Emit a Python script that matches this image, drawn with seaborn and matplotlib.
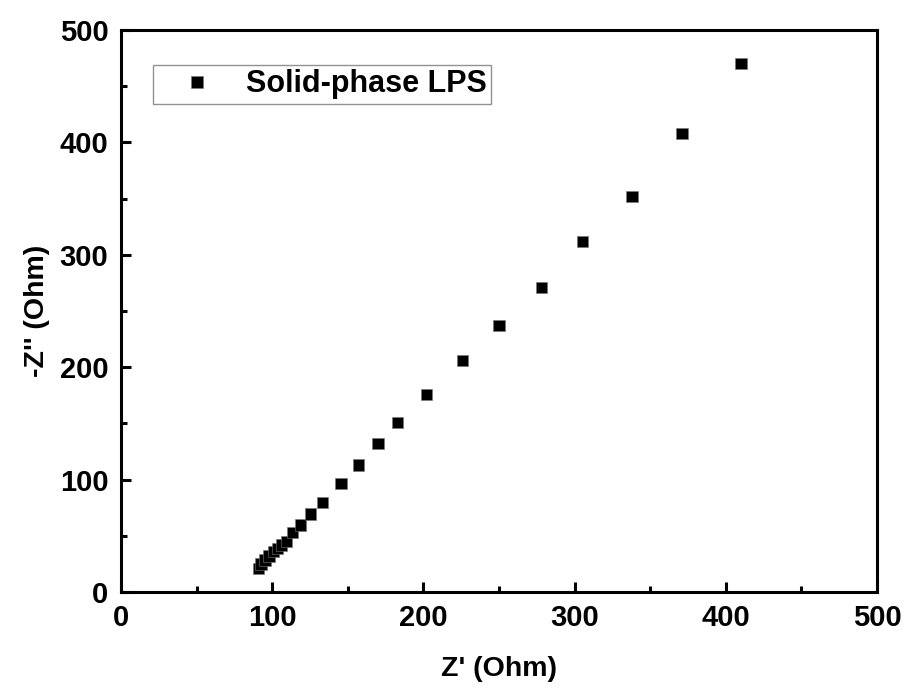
import matplotlib
matplotlib.use("Agg")
import matplotlib.pyplot as plt
import seaborn as sns
import pandas as pd
from matplotlib.ticker import MultipleLocator

z_real = [90.8, 92.6, 95.2, 97.9, 100.7, 103.4, 106.3, 109.6, 113.5, 118.8,
          125.4, 133.4, 145.5, 157, 170, 183, 202, 226, 250, 278, 305, 338, 371, 410]
z_imag = [21.1, 24.9, 28.5, 32.0, 35.9, 38.9, 41.8, 44.8, 52.8, 59.6,
          69.4, 79.8, 96.5, 113, 132, 151, 176, 206, 237, 271, 312, 352, 408, 470]
series_name = "Solid-phase LPS"

df = pd.DataFrame({"Z'": z_real, "-Z''": z_imag, "series": series_name})

sns.set_theme(style="white")
plt.rcParams['font.family'] = ['Liberation Sans', 'DejaVu Sans']
plt.rcParams['font.weight'] = 'bold'
plt.rcParams['text.color'] = 'black'
plt.rcParams['axes.labelcolor'] = 'black'
plt.rcParams['xtick.color'] = 'black'
plt.rcParams['ytick.color'] = 'black'

fig = plt.figure(figsize=(9.05, 6.91), dpi=100)
ax = fig.add_axes([0.1337, 0.1433, 0.8354, 0.8133])

sns.scatterplot(data=df, x="Z'", y="-Z''", hue="series", palette=["black"],
                marker="s", s=65, edgecolor="#777777", linewidth=0.4, ax=ax, zorder=3)

ax.set_xlim(0, 500)
ax.set_ylim(0, 500)
ax.xaxis.set_major_locator(MultipleLocator(100))
ax.xaxis.set_minor_locator(MultipleLocator(50))
ax.yaxis.set_major_locator(MultipleLocator(100))
ax.yaxis.set_minor_locator(MultipleLocator(50))
ax.tick_params(which='both', direction='in', bottom=True, left=True, top=False, right=False,
               width=2.2, labelsize=21, pad=9, colors='black')
ax.tick_params(which='major', length=7)
ax.tick_params(which='minor', length=4.5)
for lab in ax.get_xticklabels() + ax.get_yticklabels():
    lab.set_fontweight('bold')
for sp in ax.spines.values():
    sp.set_linewidth(2.2)
    sp.set_color('black')

ax.set_xlabel("Z' (Ohm)", fontsize=20.5, fontweight='bold', labelpad=17, color='black')
ax.set_ylabel("-Z'' (Ohm)", fontsize=20.5, fontweight='bold', labelpad=7, color='black')

leg = ax.legend(loc='upper left', bbox_to_anchor=(0.042, 0.938), fontsize=22,
                frameon=True, fancybox=False, borderpad=0.15, handlelength=2.6,
                handletextpad=0.3, markerscale=1.0, borderaxespad=0)
leg.get_frame().set_edgecolor('#777777')
leg.get_frame().set_linewidth(1.0)
for t in leg.get_texts():
    t.set_fontweight('bold')
    t.set_color('black')

fig.savefig("out.png", dpi=100)
